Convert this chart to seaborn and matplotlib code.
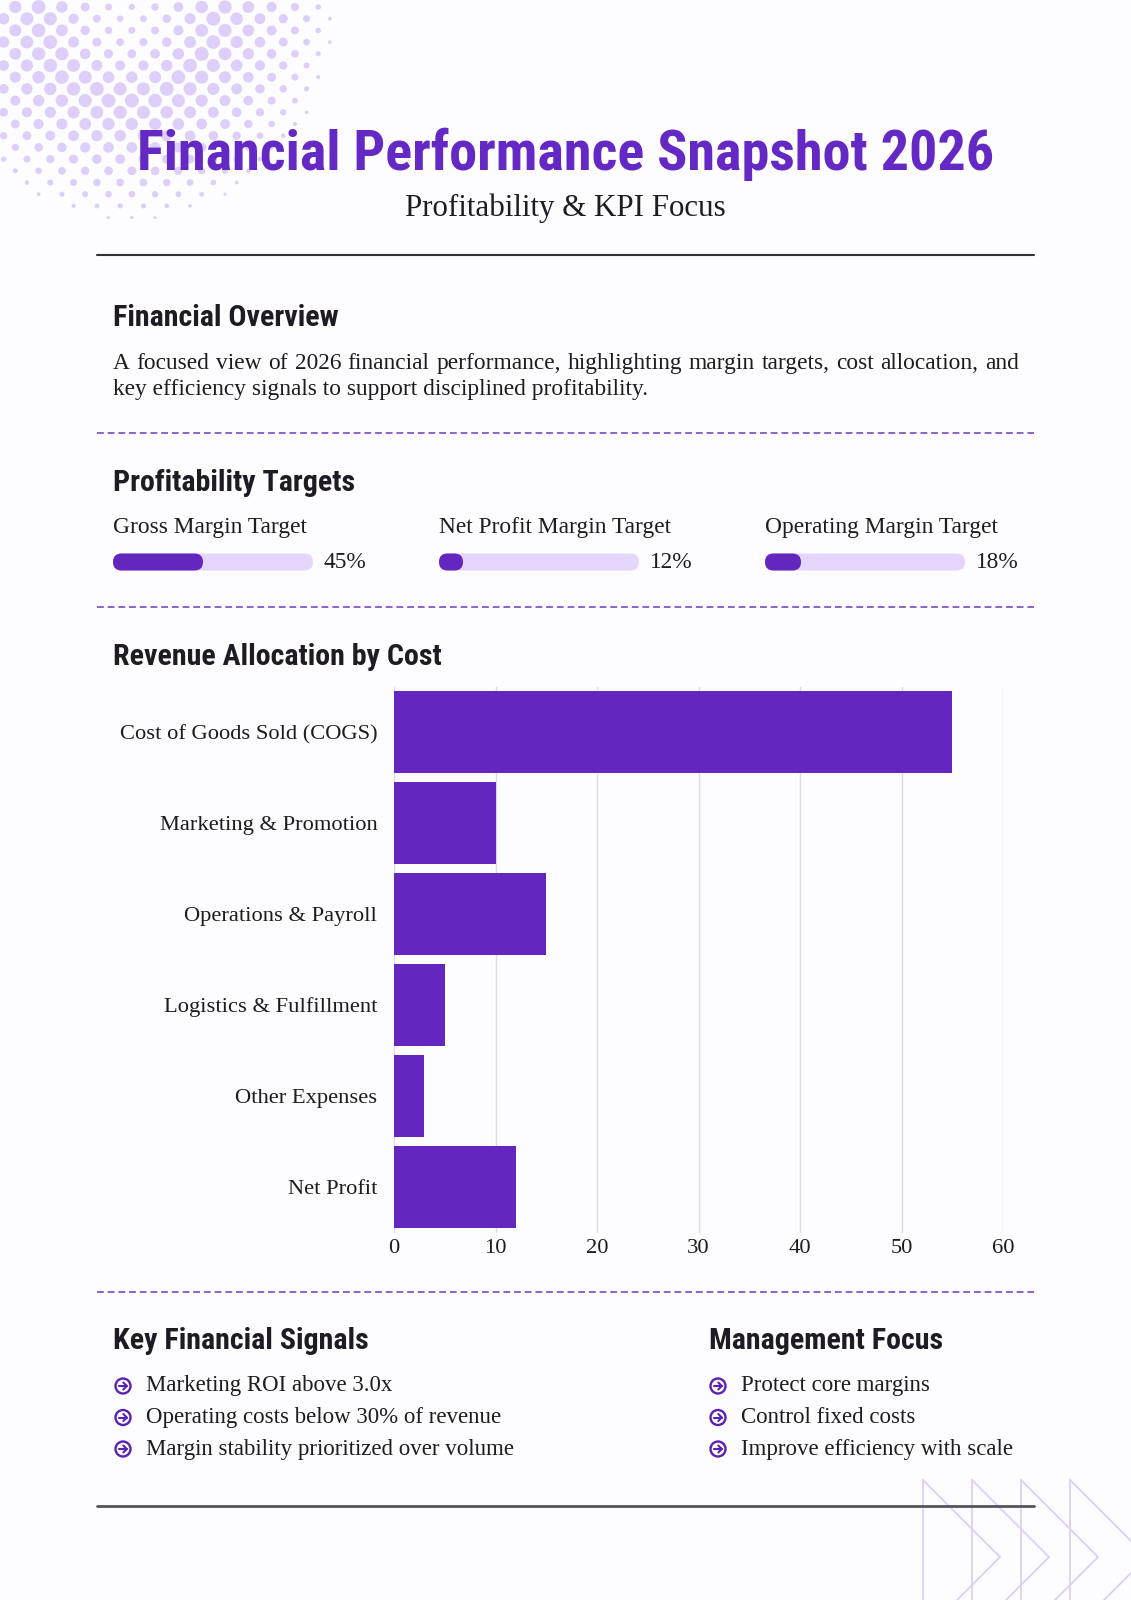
import numpy as np
import pandas as pd
import matplotlib
matplotlib.use("Agg")
import matplotlib.pyplot as plt
import seaborn as sns
from matplotlib.patches import FancyBboxPatch, Circle

# data
categorias = ["Cost of Goods Sold (COGS)", "Marketing & Promotion", "Operations & Payroll",
              "Logistics & Fulfillment", "Other Expenses", "Net Profit"]
valores = [55, 10, 15, 5, 3, 12]
metas_nomes = ["Gross Margin Target", "Net Profit Margin Target", "Operating Margin Target"]
metas_valores = [45, 12, 18]
sinais = ["Marketing ROI above 3.0x", "Operating costs below 30% of revenue",
          "Margin stability prioritized over volume"]
foco = ["Protect core margins", "Control fixed costs", "Improve efficiency with scale"]

ROXO = "#6326be"
ROXO_CLARO = "#e4d6fa"
TEXTO = "#1f1b24"
SERIF = ["Liberation Serif", "DejaVu Serif"]
NARROW = ["Roboto Condensed", "Liberation Sans Narrow", "Roboto", "DejaVu Sans"]
FS = 16.8

sns.set_style("white")
plt.rcParams["font.family"] = SERIF

W, H = 1131, 1600
fig = plt.figure(figsize=(W / 100, H / 100), dpi=100, facecolor="#fdfcff")
bg = fig.add_axes([0, 0, 1, 1])
bg.set_xlim(0, W)
bg.set_ylim(H, 0)
bg.axis("off")
renderer = fig.canvas.get_renderer()


def ajusta(t, largura):
    # scale font so the text spans the wanted pixel width
    w = t.get_window_extent(renderer).width
    t.set_fontsize(t.get_fontsize() * largura / w)
    return t.get_fontsize()


# halftone dots top-left: smaller in the middle, large ring, fading out
for j, yy in enumerate(np.arange(7, 240, 11.7)):
    off = 11.65 if j % 2 else 0
    for xx in np.arange(-8 + off, 345, 23.3):
        d = np.hypot(xx - 128, yy - 12)
        if d < 85:
            r = 3.0 + 4.0 * (d / 85) ** 1.5
        else:
            r = 7.0 * max(0, 1 - (d - 85) / 130) ** 0.55
        if r > 1.4:
            bg.add_patch(Circle((xx, yy), r, color="#ddcff9", lw=0, zorder=0))

# chevrons bottom-right
for i in range(4):
    x0 = 923 + 49 * i
    bg.plot([x0, x0 + 77, x0], [1480, 1557, 1634], color="#ddd0f6", lw=1.3, zorder=0)
    bg.plot([x0, x0], [1480, 1640], color="#ddd0f6", lw=1.3, zorder=0)

# title
t = bg.text(566, 154, "Financial Performance Snapshot 2026", family=NARROW, weight="bold",
            stretch="condensed", fontsize=40, color="#6428c4", ha="center", va="center")
ajusta(t, 856)
bg.text(565, 208, "Profitability & KPI Focus", fontsize=22.3, color=TEXTO, ha="center", va="center")

bg.plot([97, 1034], [255, 255], color="#333333", lw=1.5)
bg.plot([97, 1034], [1506, 1506], color="#55545a", lw=2)
for yy in [433, 607, 1292]:
    bg.plot([97, 1034], [yy, yy], color="#8b63c9", lw=1.4, ls=(0, (3.5, 2)))

# headings, size fitted on one of them
t = bg.text(113, 657, "Revenue Allocation by Cost", family=NARROW, weight="bold", stretch="condensed",
            fontsize=20, color=TEXTO, ha="left", va="center")
fs_tit = ajusta(t, 329)
for x, y, s in [(113, 318, "Financial Overview"), (113, 483, "Profitability Targets"),
                (113, 1341, "Key Financial Signals"), (709, 1341, "Management Focus")]:
    bg.text(x, y, s, family=NARROW, weight="bold", stretch="condensed", fontsize=fs_tit,
            color=TEXTO, ha="left", va="center")

# paragraph, first line justified
linha1 = "A focused view of 2026 financial performance, highlighting margin targets, cost allocation, and".split()
textos = [bg.text(0, 369, w, fontsize=FS, color=TEXTO, va="baseline") for w in linha1]
larg = [tt.get_window_extent(renderer).width for tt in textos]
esp = (1019 - 113 - sum(larg)) / (len(linha1) - 1)
x = 113
for tt, l in zip(textos, larg):
    tt.set_x(x)
    x += l + esp
bg.text(113, 395, "key efficiency signals to support disciplined profitability.", fontsize=FS,
        color=TEXTO, va="baseline")

# progress bars
for i, (nome, v) in enumerate(zip(metas_nomes, metas_valores)):
    x0 = 113 + 326 * i
    bg.text(x0, 528, nome, fontsize=FS, color=TEXTO, va="center")
    bg.add_patch(FancyBboxPatch((x0, 553.5), 200, 17, boxstyle="round,pad=0,rounding_size=8.5",
                                fc=ROXO_CLARO, ec="none"))
    bg.add_patch(FancyBboxPatch((x0, 553.5), 200 * v / 100, 17, boxstyle="round,pad=0,rounding_size=8.5",
                                fc=ROXO, ec="none"))
    bg.text(x0 + 211, 563, f"{v}%", fontsize=FS, color=TEXTO, va="center")


def bullet(x, y, s):
    bg.add_patch(Circle((x, y), 7.5, fc="none", ec="#5b22b0", lw=1.7))
    bg.plot([x - 4, x + 3.5], [y, y], color="#5b22b0", lw=1.5, solid_capstyle="round")
    bg.plot([x + 0.3, x + 3.8, x + 0.3], [y - 3.5, y, y + 3.5], color="#5b22b0", lw=1.5,
            solid_capstyle="round")
    bg.text(x + 23, y, s, fontsize=16.5, color=TEXTO, va="center")


for k, s in enumerate(sinais):
    bullet(123, 1386 + 31.5 * k, s)
for k, s in enumerate(foco):
    bullet(718, 1386 + 31.5 * k, s)

# bar chart
df = pd.DataFrame({"categoria": categorias, "valor": valores})
ax = fig.add_axes([394 / W, 1 - 1232.5 / H, (1003 - 394) / W, (1232.5 - 686.5) / H])
ax.set_facecolor("none")
sns.barplot(data=df, x="valor", y="categoria", color=ROXO, saturation=1, width=0.9, ax=ax,
            orient="h", edgecolor="none")
ax.set_xlim(0, 60)
ax.set_ylim(5.5, -0.5)
ax.set_xticks(range(0, 61, 10))
ax.grid(axis="x", color="#dcdcdc", lw=1)
ax.grid(axis="y", visible=False)
ax.set_axisbelow(True)
for sp in ax.spines.values():
    sp.set_visible(False)
ax.set_xlabel("")
ax.set_ylabel("")
ax.tick_params(axis="both", length=0, labelsize=16.2, labelcolor=TEXTO)
ax.tick_params(axis="y", pad=12)
ax.tick_params(axis="x", pad=5)

fig.savefig("out.png", dpi=100, facecolor=fig.get_facecolor())
